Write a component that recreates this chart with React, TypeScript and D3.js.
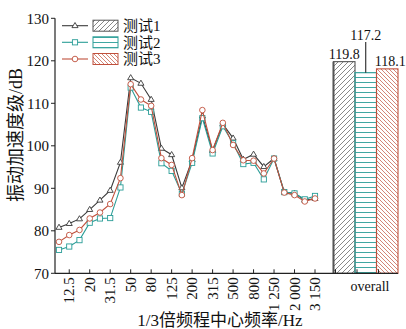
import React from "react";
import * as d3 from "d3";

const freqs = ["10","12.5","16","20","25","31.5","40","50","63","80","100","125","160","200","250","315","400","500","630","800","1000","1250","1600","2000","2500","3150"];
const tickFreqs = ["12.5","20","31.5","50","80","125","200","315","500","800","1250","2000","3150"];
const tickLabels = ["12.5","20","31.5","50","80","125","200","315","500","800","1 250","2 000","3 150"];
const seriesNames = ["测试1","测试2","测试3"];
const s1 = [80.8,81.7,82.8,85.0,87.2,89.5,96.1,116.0,114.7,110.9,99.4,97.9,90.1,96.7,107.0,98.9,105.1,101.8,96.8,98.0,95.1,97.0,89.1,88.8,87.2,87.6];
const s2 = [75.5,76.3,77.8,81.9,82.9,83.0,90.2,113.7,109.0,108.0,95.9,94.1,88.7,96.0,106.5,98.2,104.6,100.6,95.7,96.0,92.1,97.0,89.1,88.8,87.4,88.2];
const s3 = [77.4,79.0,80.2,82.9,84.3,86.3,92.4,114.5,110.9,109.4,97.1,95.5,88.4,97.1,108.4,99.0,105.4,100.2,96.6,96.5,93.5,97.0,89.0,88.4,86.9,87.6];
const overall = [119.8,117.2,118.1];
const yTicks = [70,80,90,100,110,120,130];

const colors = ["#3a3a3a","#2a9d97","#c0503c"];
const hatchColors = ["#555555","#2a9d97","#c0503c"];
const FONT = "'Liberation Serif', 'Noto Sans CJK SC', serif";

export default function App() {
  const W = 406, H = 329;
  const axisLeft = 55, axisRight = 398;
  const y = d3.scaleLinear().domain([70,130]).range([273.3,18.3]);
  const x = d3.scalePoint<string>().domain(freqs).range([59,315]);
  const xb = d3.scaleBand<string>().domain(seriesNames).range([333.5,398]).padding(0);
  const line = d3.line<number>().x((_, i) => x(freqs[i])!).y(d => y(d));
  const data = [s1, s2, s3];
  const y0 = y(70);

  const marker = (k: number, cx: number, cy: number, key: any) => {
    const c = colors[k];
    if (k === 0) {
      const r = 3.2;
      return <path key={key} d={`M${cx},${cy - r} L${cx + r * 0.95},${cy + r * 0.6} L${cx - r * 0.95},${cy + r * 0.6} Z`} fill="#fff" stroke={c} strokeWidth={0.9} />;
    }
    if (k === 1) {
      return <rect key={key} x={cx - 2.6} y={cy - 2.6} width={5.2} height={5.2} fill="#fff" stroke={c} strokeWidth={0.9} />;
    }
    return <circle key={key} cx={cx} cy={cy} r={2.8} fill="#fff" stroke={c} strokeWidth={0.9} />;
  };

  const legendY = [25.7, 42.3, 59];

  return (
    <svg width={W} height={H} style={{ display: "block", position: "absolute", left: 0, top: 0 }} fontFamily={FONT}>
      <defs>
        <pattern id="h1" patternUnits="userSpaceOnUse" width={5} height={5}>
          <path d="M0,5 L5,0 M-1,1 L1,-1 M4,6 L6,4" stroke={hatchColors[0]} strokeWidth={0.7} />
        </pattern>
        <pattern id="h2" patternUnits="userSpaceOnUse" width={10} height={5}>
          <path d="M0,2.5 L10,2.5" stroke={hatchColors[1]} strokeWidth={0.9} />
        </pattern>
        <pattern id="h3" patternUnits="userSpaceOnUse" width={4} height={4}>
          <path d="M0,0 L4,4 M-1,3 L1,5 M3,-1 L5,1" stroke={hatchColors[2]} strokeWidth={0.7} />
        </pattern>
      </defs>
      <rect width={W} height={H} fill="#fff" />

      {/* bars */}
      {overall.map((v, i) => (
        <rect key={i} x={xb(seriesNames[i])!} y={y(v)} width={xb.bandwidth()} height={y0 - y(v)}
          fill={`url(#h${i + 1})`} stroke={hatchColors[i]} strokeWidth={1.1} />
      ))}
      <line x1={xb(seriesNames[0])!} x2={xb(seriesNames[0])!} y1={y(overall[0])} y2={y0} stroke="#555" strokeWidth={2} />
      <text x={xb(seriesNames[0])! + xb.bandwidth() / 2} y={y(overall[0]) - 2.5} textAnchor="middle" fontSize={14} fill="#111">119.8</text>
      <text x={xb(seriesNames[1])! + xb.bandwidth() / 2} y={40} textAnchor="middle" fontSize={14} fill="#111">117.2</text>
      <line x1={xb(seriesNames[1])! + xb.bandwidth() / 2} x2={xb(seriesNames[1])! + xb.bandwidth() / 2} y1={42} y2={y(overall[1])} stroke="#111" strokeWidth={1} />
      <text x={xb(seriesNames[2])! + xb.bandwidth() / 2 + 3} y={y(overall[2]) - 2.5} textAnchor="middle" fontSize={14} fill="#111">118.1</text>

      {/* lines */}
      {data.map((s, k) => (
        <g key={k}>
          <path d={line(s)!} fill="none" stroke={colors[k]} strokeWidth={1.1} />
          {s.map((v, i) => marker(k, x(freqs[i])!, y(v), i))}
        </g>
      ))}

      {/* axes */}
      <line x1={axisLeft} x2={axisLeft} y1={y(130)} y2={y0} stroke="#222" strokeWidth={1.2} />
      <line x1={axisLeft} x2={axisRight} y1={y0} y2={y0} stroke="#222" strokeWidth={1.2} />
      {yTicks.map(t => (
        <g key={t}>
          <line x1={axisLeft - 4} x2={axisLeft} y1={y(t)} y2={y(t)} stroke="#222" strokeWidth={1} />
          <text x={axisLeft - 6} y={y(t)} dy="0.35em" textAnchor="end" fontSize={15} fill="#111">{t}</text>
        </g>
      ))}
      {tickFreqs.map((f, i) => (
        <g key={f}>
          <line x1={x(f)!} x2={x(f)!} y1={y0} y2={y0 - 4} stroke="#222" strokeWidth={1} />
          <text transform={`translate(${x(f)!},${y0 + 4}) rotate(-90)`} dy="0.35em" textAnchor="end" fontSize={15} fill="#111">{tickLabels[i]}</text>
        </g>
      ))}
      {seriesNames.map((n, i) => (
        <line key={n} x1={xb(n)! + 2} x2={xb(n)! + 2} y1={y0} y2={y0 - 4} stroke="#222" strokeWidth={1} />
      ))}
      <text x={370} y={291} textAnchor="middle" fontSize={14} fill="#111">overall</text>

      {/* axis titles */}
      <text transform={`translate(22,135) rotate(-90)`} textAnchor="middle" fontSize={18} fill="#111">振动加速度级/dB</text>
      <text x={220} y={326} textAnchor="middle" fontSize={17} fill="#111">1/3倍频程中心频率/Hz</text>

      {/* legend */}
      {seriesNames.map((n, k) => (
        <g key={n}>
          <line x1={62} x2={88} y1={legendY[k]} y2={legendY[k]} stroke={colors[k]} strokeWidth={1.1} />
          {marker(k, 75, legendY[k], "m")}
          <rect x={93} y={legendY[k] - 5.5} width={25} height={11} fill={`url(#h${k + 1})`} stroke={hatchColors[k]} strokeWidth={1} />
          <text x={123} y={legendY[k]} dy="0.36em" fontSize={15} fill="#111">{n}</text>
        </g>
      ))}
    </svg>
  );
}
